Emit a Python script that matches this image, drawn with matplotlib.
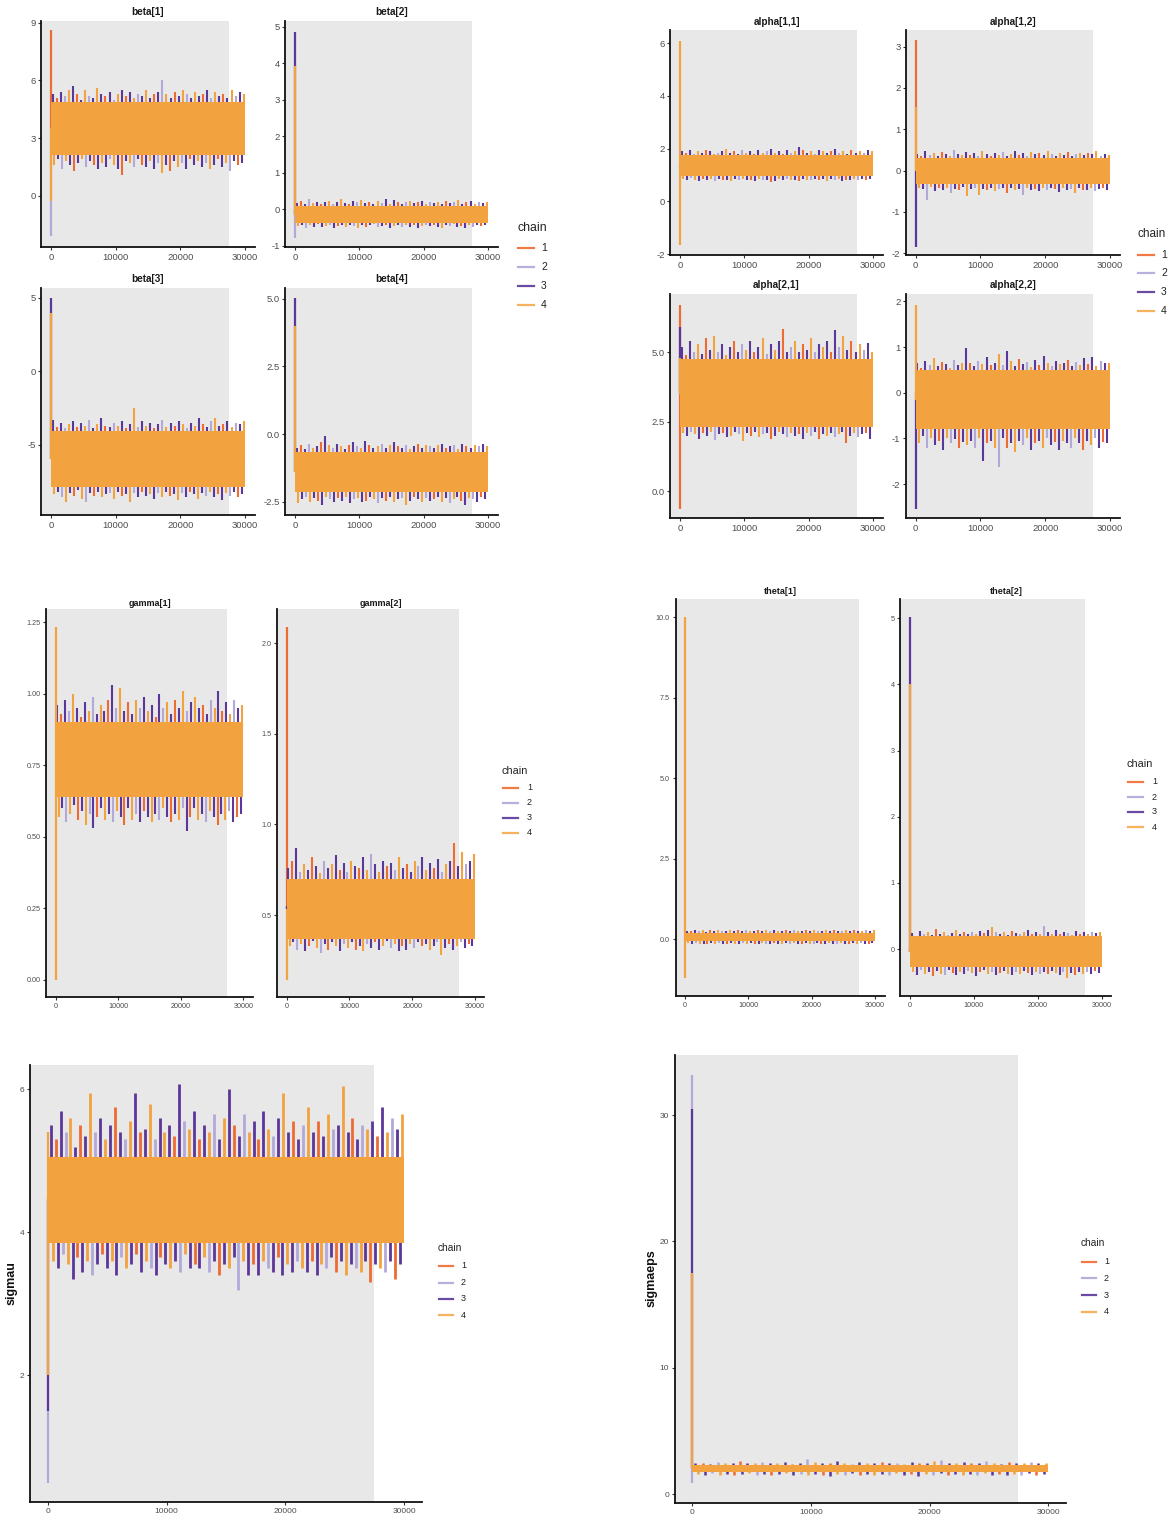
import numpy as np
import matplotlib
matplotlib.use('Agg')
import matplotlib.pyplot as plt
from matplotlib.lines import Line2D

plt.rcParams['font.family'] = ['Liberation Sans', 'DejaVu Sans']
plt.rcParams['axes.unicode_minus'] = False

W, H = 1173, 1517
n_iter = 30000
shade_end = 27450

chain_cols = ['#EE6B32', '#B3A9D9', '#5A3798', '#F2A23E']
leg_cols = ['#F07A45', '#B9AFDD', '#6A4BA3', '#F6B25E']
spike_chain = [3, 1, 3, 2, 4, 3, 1, 3, 4, 2, 3, 4]

# first draws of each chain (1..4), central band of the chains, upper / lower excursions
beta1_init = [[8.6], [-2.1], [3.5], [-0.3]]
beta1_core = (2.1, 4.9)
beta1_top = [5.3, 5.1, 5.4, 5.2, 5.5, 5.7, 5.3, 5.0, 5.5, 5.2, 5.1, 5.6, 5.3, 5.2, 5.4, 5.0, 5.3, 5.5,
             5.2, 5.4, 5.1, 5.3, 5.2, 5.5, 5.1, 5.3, 5.4, 6.0, 5.3, 5.1, 5.4, 5.2, 5.5, 5.3, 5.1, 5.4,
             5.2, 5.3, 5.5, 5.1, 5.4, 5.2, 5.3, 5.1, 5.5, 5.2, 5.4, 5.3]
beta1_bot = [1.6, 1.9, 1.4, 1.8, 1.6, 1.3, 1.7, 1.9, 1.5, 1.8, 1.6, 1.4, 1.7, 1.5, 1.9, 1.6, 1.4, 1.1,
             1.8, 1.7, 1.5, 1.9, 1.6, 1.5, 1.8, 1.4, 1.7, 1.2, 1.6, 1.3, 1.8, 1.5, 1.7, 1.4, 1.9, 1.6,
             1.8, 1.5, 1.7, 1.4, 1.6, 1.9, 1.5, 1.7, 1.3, 1.8, 1.6, 1.7]

beta2_init = [[0.0], [-0.78], [4.87], [3.93]]
beta2_core = (-0.38, 0.10)
beta2_top = [0.18, 0.22, 0.15, 0.28, 0.17, 0.2, 0.14, 0.19, 0.24, 0.16, 0.21, 0.29, 0.18, 0.15, 0.22, 0.19,
             0.26, 0.17, 0.2, 0.14, 0.23, 0.18, 0.29, 0.16, 0.25, 0.19, 0.15, 0.2, 0.22, 0.17, 0.19, 0.24,
             0.16, 0.2, 0.18, 0.21, 0.15, 0.23, 0.17, 0.2, 0.26, 0.16, 0.19, 0.22, 0.15, 0.2, 0.18, 0.21]
beta2_bot = [-0.45, -0.42, -0.5, -0.44, -0.47, -0.41, -0.49, -0.45, -0.43, -0.52, -0.46, -0.44, -0.48, -0.42,
             -0.45, -0.5, -0.43, -0.47, -0.44, -0.41, -0.49, -0.46, -0.43, -0.5, -0.45, -0.42, -0.48, -0.44,
             -0.47, -0.43, -0.51, -0.45, -0.42, -0.46, -0.44, -0.47, -0.5, -0.43, -0.46, -0.41, -0.48, -0.45,
             -0.52, -0.44, -0.47, -0.42, -0.46, -0.44]

beta3_init = [[-6.0], [-6.0], [5.0], [4.0]]
beta3_core = (-7.9, -4.1)
beta3_top = [-3.3, -3.8, -3.5, -3.9, -3.6, -3.4, -3.8, -3.5, -3.7, -3.3, -3.9, -3.6, -3.2, -3.7, -3.8, -3.5,
             -3.7, -3.4, -3.9, -3.6, -2.5, -3.8, -3.4, -3.7, -3.5, -3.9, -3.6, -3.3, -3.8, -3.5, -3.7, -3.4,
             -3.6, -3.9, -3.5, -3.7, -3.2, -3.6, -3.8, -3.4, -3.2, -3.7, -3.6, -3.4, -3.8, -3.5, -3.6, -3.4]
beta3_bot = [-8.4, -8.2, -8.6, -8.9, -8.3, -8.5, -8.1, -8.7, -8.9, -8.3, -8.5, -8.2, -8.6, -8.4, -8.3, -8.7,
             -8.2, -8.5, -8.4, -8.9, -8.3, -8.6, -8.2, -8.5, -8.4, -8.7, -8.3, -8.6, -8.2, -8.5, -8.4, -8.8,
             -8.3, -8.6, -8.2, -8.4, -8.7, -8.3, -8.5, -8.2, -8.6, -8.4, -8.8, -8.3, -8.5, -8.2, -8.6, -8.4]

beta4_init = [[-1.4], [-1.4], [5.02], [4.0]]
beta4_core = (-2.15, -0.65)
beta4_top = [-0.5, -0.4, -0.55, -0.35, -0.5, -0.45, -0.3, -0.05, -0.4, -0.5, -0.35, -0.45, -0.55, -0.4, -0.3,
             -0.45, -0.5, -0.25, -0.4, -0.5, -0.45, -0.35, -0.5, -0.4, -0.3, -0.45, -0.5, -0.4, -0.55, -0.45,
             -0.35, -0.5, -0.4, -0.45, -0.5, -0.4, -0.35, -0.5, -0.45, -0.4, -0.55, -0.35, -0.45, -0.5, -0.4,
             -0.45, -0.35, -0.45]
beta4_bot = [-2.55, -2.4, -2.3, -2.5, -2.35, -2.45, -2.6, -2.3, -2.4, -2.5, -2.35, -2.45, -2.3, -2.55, -2.4,
             -2.35, -2.5, -2.45, -2.3, -2.4, -2.55, -2.35, -2.45, -2.3, -2.5, -2.4, -2.35, -2.6, -2.45, -2.3,
             -2.4, -2.5, -2.35, -2.45, -2.4, -2.3, -2.5, -2.35, -2.55, -2.4, -2.3, -2.45, -2.6, -2.35, -2.4,
             -2.5, -2.3, -2.4]

alpha11_init = [[1.3], [1.3], [1.3], [6.1, -1.65]]
alpha11_core = (0.95, 1.75)
alpha11_top = [1.9, 1.85, 1.95, 1.8, 1.9, 1.85, 1.95, 1.9, 1.8, 1.85, 1.9, 2.0, 1.85, 1.9, 1.8, 1.95, 1.85,
               1.9, 1.8, 1.95, 1.85, 1.9, 2.0, 1.85, 1.9, 1.8, 1.95, 1.85, 1.9, 2.08, 1.95, 1.85, 1.9, 1.8,
               1.95, 1.9, 1.85, 1.9, 2.0, 1.85, 1.9, 1.8, 1.95, 1.85, 1.9, 1.85, 1.95, 1.9]
alpha11_bot = [0.85, 0.8, 0.88, 0.82, 0.78, 0.86, 0.8, 0.84, 0.79, 0.87, 0.82, 0.8, 0.76, 0.85, 0.81, 0.86,
               0.8, 0.83, 0.78, 0.86, 0.82, 0.8, 0.72, 0.79, 0.84, 0.81, 0.86, 0.8, 0.83, 0.79, 0.85, 0.82,
               0.8, 0.86, 0.83, 0.85, 0.78, 0.84, 0.8, 0.86, 0.79, 0.83, 0.81, 0.85, 0.8, 0.84, 0.82, 0.85]

alpha12_init = [[3.15], [0.0], [-1.85], [1.55]]
alpha12_core = (-0.32, 0.30)
alpha12_top = [0.4, 0.35, 0.48, 0.38, 0.42, 0.36, 0.44, 0.39, 0.35, 0.5, 0.41, 0.37, 0.45, 0.38, 0.43, 0.36,
               0.48, 0.4, 0.35, 0.42, 0.38, 0.44, 0.36, 0.4, 0.47, 0.38, 0.42, 0.35, 0.45, 0.39, 0.43, 0.37,
               0.48, 0.4, 0.36, 0.42, 0.38, 0.45, 0.35, 0.4, 0.43, 0.37, 0.42, 0.39, 0.47, 0.36, 0.41, 0.38]
alpha12_bot = [-0.42, -0.45, -0.7, -0.4, -0.5, -0.43, -0.46, -0.41, -0.55, -0.44, -0.48, -0.4, -0.62, -0.45,
               -0.42, -0.58, -0.44, -0.47, -0.41, -0.5, -0.45, -0.43, -0.55, -0.42, -0.48, -0.45, -0.58, -0.41,
               -0.47, -0.44, -0.5, -0.42, -0.46, -0.43, -0.45, -0.52, -0.41, -0.47, -0.44, -0.55, -0.42, -0.46,
               -0.48, -0.43, -0.5, -0.45, -0.42, -0.47]

alpha21_init = [[6.7, -0.65], [3.5], [5.9], [4.8]]
alpha21_core = (2.3, 4.75)
alpha21_top = [5.2, 4.9, 5.4, 5.0, 5.3, 4.95, 5.5, 5.1, 5.6, 5.0, 5.3, 4.9, 5.2, 5.4, 5.0, 5.3, 5.1, 5.4, 5.0,
               5.2, 5.5, 4.95, 5.3, 5.1, 5.4, 5.85, 5.0, 5.2, 5.4, 5.0, 5.3, 5.1, 5.5, 5.0, 5.3, 5.2, 5.4, 5.0,
               5.8, 5.2, 5.6, 5.1, 5.4, 5.0, 5.3, 5.1, 5.35, 5.0]
alpha21_bot = [2.1, 2.0, 2.15, 2.05, 1.9, 2.1, 2.0, 2.15, 1.85, 2.05, 2.1, 1.95, 2.0, 2.15, 2.05, 1.8, 2.1,
               2.0, 2.15, 1.95, 2.05, 2.1, 1.9, 2.0, 2.15, 2.05, 1.95, 2.1, 2.0, 2.05, 1.9, 2.1, 2.0, 2.15,
               1.9, 2.05, 2.0, 2.1, 1.95, 2.05, 2.15, 1.75, 2.0, 2.1, 1.95, 2.05, 2.1, 1.9]

alpha22_init = [[0.0], [0.0], [-2.55], [1.93]]
alpha22_core = (-0.8, 0.5)
alpha22_top = [0.65, 0.55, 0.7, 0.6, 0.75, 0.58, 0.68, 0.62, 0.55, 0.72, 0.6, 0.66, 0.97, 0.65, 0.58, 0.7,
               0.62, 0.78, 0.6, 0.66, 0.85, 0.6, 0.92, 0.7, 0.58, 0.74, 0.62, 0.68, 0.56, 0.72, 0.6, 0.8,
               0.65, 0.58, 0.7, 0.62, 0.66, 0.72, 0.58, 0.68, 0.6, 0.75, 0.62, 0.78, 0.58, 0.7, 0.64, 0.66]
alpha22_bot = [-1.1, -0.95, -1.2, -1.0, -1.15, -1.05, -1.25, -0.98, -1.1, -1.02, -1.2, -1.08, -1.15, -1.05,
               -1.2, -1.0, -1.5, -1.1, -1.05, -1.2, -1.62, -1.0, -1.2, -1.1, -1.3, -1.05, -1.15, -1.0, -1.25,
               -1.1, -1.05, -1.2, -1.0, -1.15, -1.08, -1.25, -1.05, -1.1, -1.2, -1.0, -1.1, -1.25, -1.05,
               -1.15, -1.0, -1.2, -1.08, -1.1]

gamma1_init = [[0.77], [0.77], [0.77], [1.235, 0.0]]
gamma1_core = (0.64, 0.90)
gamma1_top = [0.96, 0.93, 0.98, 0.94, 1.0, 0.95, 0.92, 0.97, 0.94, 0.99, 0.93, 0.96, 0.94, 0.98, 1.03, 0.95,
              1.02, 0.94, 0.97, 0.93, 0.98, 0.95, 0.99, 0.94, 0.96, 0.92, 1.0, 0.95, 0.97, 0.93, 0.98, 0.95,
              1.01, 0.94, 0.97, 0.99, 0.95, 0.96, 0.93, 0.98, 0.95, 1.01, 0.94, 0.97, 0.93, 0.98, 0.95, 0.96]
gamma1_bot = [0.57, 0.6, 0.55, 0.58, 0.61, 0.56, 0.59, 0.54, 0.58, 0.53, 0.57, 0.6, 0.56, 0.58, 0.55, 0.59,
              0.57, 0.54, 0.6, 0.56, 0.58, 0.55, 0.59, 0.57, 0.55, 0.58, 0.56, 0.6, 0.57, 0.55, 0.58, 0.56,
              0.6, 0.52, 0.57, 0.6, 0.56, 0.58, 0.55, 0.59, 0.57, 0.54, 0.58, 0.56, 0.59, 0.55, 0.57, 0.58]

gamma2_init = [[2.09], [0.55], [0.55], [0.14]]
gamma2_core = (0.37, 0.70)
gamma2_top = [0.76, 0.8, 0.87, 0.74, 0.78, 0.75, 0.82, 0.77, 0.73, 0.8, 0.76, 0.78, 0.83, 0.75, 0.79, 0.74,
              0.8, 0.77, 0.76, 0.82, 0.75, 0.84, 0.78, 0.74, 0.8, 0.77, 0.79, 0.75, 0.82, 0.76, 0.78, 0.74,
              0.8, 0.77, 0.82, 0.75, 0.79, 0.76, 0.81, 0.74, 0.78, 0.8, 0.9, 0.77, 0.85, 0.78, 0.8, 0.84]
gamma2_bot = [0.33, 0.35, 0.31, 0.34, 0.3, 0.33, 0.36, 0.32, 0.29, 0.34, 0.31, 0.35, 0.33, 0.3, 0.34, 0.32,
              0.35, 0.31, 0.33, 0.3, 0.34, 0.32, 0.35, 0.31, 0.33, 0.36, 0.32, 0.34, 0.3, 0.33, 0.31, 0.34,
              0.32, 0.35, 0.33, 0.34, 0.31, 0.33, 0.35, 0.28, 0.32, 0.34, 0.31, 0.33, 0.35, 0.32, 0.34, 0.33]

theta1_init = [[0.07], [0.07], [0.07], [10.0, -1.2]]
theta1_core = (-0.07, 0.20)
theta1_top = [0.26, 0.24, 0.28, 0.25, 0.27, 0.23, 0.29, 0.25, 0.27, 0.24, 0.26, 0.28, 0.25, 0.27, 0.24, 0.29,
              0.26, 0.25, 0.28, 0.24, 0.27, 0.25, 0.29, 0.26, 0.24, 0.28, 0.25, 0.27, 0.26, 0.24, 0.28, 0.25,
              0.27, 0.26, 0.24, 0.27, 0.25, 0.28, 0.24, 0.26, 0.29, 0.25, 0.27, 0.24, 0.26, 0.28, 0.25, 0.27]
theta1_bot = [-0.13, -0.16, -0.12, -0.15, -0.14, -0.17, -0.12, -0.15, -0.13, -0.16, -0.14, -0.12, -0.17,
              -0.14, -0.13, -0.15, -0.12, -0.16, -0.14, -0.13, -0.15, -0.17, -0.12, -0.14, -0.16, -0.13,
              -0.15, -0.12, -0.14, -0.16, -0.13, -0.15, -0.14, -0.12, -0.16, -0.14, -0.13, -0.15, -0.17,
              -0.12, -0.14, -0.16, -0.13, -0.15, -0.12, -0.14, -0.16, -0.13]

theta2_init = [[0.0], [0.0], [5.02], [4.0]]
theta2_core = (-0.27, 0.19)
theta2_top = [0.24, 0.2, 0.27, 0.22, 0.25, 0.21, 0.3, 0.23, 0.26, 0.21, 0.24, 0.28, 0.22, 0.25, 0.23, 0.26,
              0.22, 0.27, 0.24, 0.29, 0.33, 0.25, 0.23, 0.26, 0.21, 0.27, 0.24, 0.22, 0.25, 0.28, 0.23, 0.26,
              0.22, 0.35, 0.25, 0.23, 0.28, 0.22, 0.26, 0.24, 0.21, 0.27, 0.23, 0.25, 0.22, 0.26, 0.24, 0.25]
theta2_bot = [-0.35, -0.4, -0.32, -0.38, -0.34, -0.41, -0.33, -0.37, -0.39, -0.32, -0.36, -0.4, -0.34, -0.38,
              -0.33, -0.36, -0.41, -0.35, -0.32, -0.38, -0.34, -0.39, -0.36, -0.33, -0.37, -0.4, -0.34,
              -0.38, -0.33, -0.36, -0.39, -0.34, -0.37, -0.35, -0.38, -0.33, -0.36, -0.4, -0.35, -0.44,
              -0.36, -0.39, -0.34, -0.37, -0.35, -0.38, -0.33, -0.36]

sigmau_init = [[4.5], [0.5], [1.5], [2.0, 5.4]]
sigmau_core = (3.85, 5.05)
sigmau_top = [5.5, 5.3, 5.7, 5.4, 5.6, 5.2, 5.5, 5.35, 5.95, 5.4, 5.6, 5.3, 5.5, 5.75, 5.4, 5.3, 5.55, 5.95,
              5.4, 5.45, 5.8, 5.3, 5.6, 5.4, 5.5, 5.35, 6.07, 5.55, 5.45, 5.7, 5.3, 5.5, 5.4, 5.65, 5.3, 5.6,
              6.0, 5.5, 5.35, 5.65, 5.4, 5.55, 5.3, 5.7, 5.45, 5.35, 5.6, 5.95, 5.4, 5.55, 5.3, 5.5, 5.75,
              5.4, 5.55, 5.35, 5.65, 5.45, 5.5, 6.05, 5.4, 5.6, 5.3, 5.5, 5.45, 5.55, 5.35, 5.75, 5.4, 5.6,
              5.45, 5.65]
sigmau_bot = [3.6, 3.5, 3.7, 3.55, 3.35, 3.65, 3.45, 3.6, 3.4, 3.55, 3.7, 3.5, 3.6, 3.4, 3.65, 3.5, 3.55,
              3.7, 3.45, 3.6, 3.5, 3.4, 3.65, 3.55, 3.5, 3.6, 3.45, 3.7, 3.5, 3.55, 3.5, 3.65, 3.45, 3.6,
              3.4, 3.55, 3.5, 3.65, 3.2, 3.6, 3.4, 3.55, 3.4, 3.6, 3.5, 3.45, 3.65, 3.4, 3.55, 3.45, 3.6,
              3.5, 3.45, 3.6, 3.4, 3.55, 3.5, 3.65, 3.45, 3.6, 3.4, 3.55, 3.5, 3.45, 3.6, 3.3, 3.55, 3.5,
              3.45, 3.6, 3.35, 3.55]

sigmaeps_init = [[2.0], [33.2, 0.9], [30.5], [17.5]]
sigmaeps_core = (1.75, 2.35)
sigmaeps_top = [2.45, 2.5, 2.4, 2.55, 2.45, 2.5, 2.6, 2.45, 2.5, 2.55, 2.5, 2.45, 2.55, 2.4, 2.5, 2.8, 2.55,
                2.5, 2.45, 2.6, 2.5, 2.4, 2.55, 2.45, 2.5, 2.55, 2.45, 2.5, 2.4, 2.55, 2.45, 2.5, 2.6, 2.7,
                2.5, 2.45, 2.55, 2.5, 2.45, 2.6, 2.5, 2.4, 2.55, 2.45, 2.5, 2.55, 2.45, 2.5]
sigmaeps_bot = [1.6, 1.55, 1.65, 1.5, 1.6, 1.55, 1.6, 1.65, 1.5, 1.6, 1.55, 1.6, 1.65, 1.55, 1.6, 1.5, 1.6,
                1.55, 1.45, 1.6, 1.55, 1.65, 1.5, 1.6, 1.55, 1.6, 1.5, 1.65, 1.55, 1.6, 1.45, 1.6, 1.55,
                1.65, 1.5, 1.6, 1.55, 1.6, 1.5, 1.65, 1.55, 1.6, 1.5, 1.6, 1.55, 1.65, 1.5, 1.6]

fig = plt.figure(figsize=(W / 100, H / 100), dpi=100)


def px(x, y):
    return x / W, 1 - y / H


def panel(x0, x30, top, bottom, ylim, yticks, ylabels, fs):
    left = x0 - 0.05 * (x30 - x0)
    right = x30 + 0.05 * (x30 - x0)
    ax = fig.add_axes([left / W, 1 - bottom / H, (right - left) / W, (bottom - top) / H])
    ax.set_xlim(-1500, 31500)
    ax.set_ylim(*ylim)
    ax.axvspan(-1500, shade_end, color='#E8E8E8', lw=0, zorder=0)
    ax.set_xticks([0, 10000, 20000, 30000])
    ax.set_yticks(yticks)
    ax.set_yticklabels(ylabels)
    for s in ['top', 'right']:
        ax.spines[s].set_visible(False)
    for s in ['left', 'bottom']:
        ax.spines[s].set_linewidth(1.3)
        ax.spines[s].set_color('#111111')
    ax.tick_params(length=2.5, width=0.8, color='#333333', labelsize=fs,
                   labelcolor='#4D4D4D', pad=1.5)
    ax.center_px = (left + right) / 2
    return ax


def trace(ax, init, core, top, bot, lw=1.5):
    mid = (core[0] + core[1]) / 2
    top = np.array(top)
    bot = np.array(bot)
    xt = np.linspace(250, n_iter - 200, len(top))
    xb = np.linspace(450, n_iter - 400, len(bot))
    ct = np.resize(spike_chain, len(top))
    cb = np.resize(spike_chain[::-1], len(bot))
    for c in range(4):
        z = 4 if c == 3 else 2
        vals = init[c] + [mid]
        ax.vlines(0, min(vals), max(vals), color=chain_cols[c], lw=1.6, zorder=z)
        m = ct == c + 1
        ax.vlines(xt[m], mid, top[m], color=chain_cols[c], lw=lw, zorder=z)
        m = cb == c + 1
        ax.vlines(xb[m], bot[m], mid, color=chain_cols[c], lw=lw, zorder=z)
    ax.fill_between([0, n_iter], core[0], core[1], color=chain_cols[3], lw=0, zorder=3)


def title(ax, text, y, fs):
    fig.text(*px(ax.center_px, y), text, ha='center', va='center', fontsize=fs,
             fontweight='bold', color='#1A1A1A')


def chain_legend(x, y_title, ys, x_lab, line_len, fs_title, fs_lab):
    fig.text(*px(x, y_title), 'chain', ha='left', va='center', fontsize=fs_title, color='#222222')
    for i, y in enumerate(ys):
        x1, yy = px(x + 1, y)
        x2, _ = px(x + 1 + line_len, y)
        fig.add_artist(Line2D([x1, x2], [yy, yy], color=leg_cols[i], lw=1.6))
        fig.text(*px(x_lab, y), str(i + 1), ha='left', va='center', fontsize=fs_lab, color='#222222')


# beta block
ax = panel(51, 245, 21, 247, (-2.67, 9.09), [0, 3, 6, 9], ['0', '3', '6', '9'], 6.8)
trace(ax, beta1_init, beta1_core, beta1_top, beta1_bot)
title(ax, 'beta[1]', 12, 7.2)
ax = panel(295, 488, 21, 247, (-1.03, 5.16), [-1, 0, 1, 2, 3, 4, 5],
           ['-1', '0', '1', '2', '3', '4', '5'], 6.8)
trace(ax, beta2_init, beta2_core, beta2_top, beta2_bot)
title(ax, 'beta[2]', 12, 7.2)
ax = panel(51, 245, 288, 515, (-9.8, 5.68), [-5, 0, 5], ['-5', '0', '5'], 6.8)
trace(ax, beta3_init, beta3_core, beta3_top, beta3_bot)
title(ax, 'beta[3]', 279, 7.2)
ax = panel(295, 488, 288, 515, (-2.98, 5.39), [-2.5, 0, 2.5, 5], ['-2.5', '0.0', '2.5', '5.0'], 6.8)
trace(ax, beta4_init, beta4_core, beta4_top, beta4_bot)
title(ax, 'beta[4]', 279, 7.2)
chain_legend(517, 228, [248, 267, 286, 305], 541, 16, 8.8, 7.5)

# alpha block
ax = panel(680, 873, 30, 255, (-2.03, 6.5), [-2, 0, 2, 4, 6], ['-2', '0', '2', '4', '6'], 6.8)
trace(ax, alpha11_init, alpha11_core, alpha11_top, alpha11_bot)
title(ax, 'alpha[1,1]', 22, 7.2)
ax = panel(915.7, 1110, 30, 255, (-2.04, 3.40), [-2, -1, 0, 1, 2, 3],
           ['-2', '-1', '0', '1', '2', '3'], 6.8)
trace(ax, alpha12_init, alpha12_core, alpha12_top, alpha12_bot)
title(ax, 'alpha[1,2]', 22, 7.2)
ax = panel(680, 873, 294, 518, (-0.96, 7.1), [0, 2.5, 5], ['0.0', '2.5', '5.0'], 6.8)
trace(ax, alpha21_init, alpha21_core, alpha21_top, alpha21_bot)
title(ax, 'alpha[2,1]', 285, 7.2)
ax = panel(915.7, 1110, 294, 518, (-2.74, 2.16), [-2, -1, 0, 1, 2], ['-2', '-1', '0', '1', '2'], 6.8)
trace(ax, alpha22_init, alpha22_core, alpha22_top, alpha22_bot)
title(ax, 'alpha[2,2]', 285, 7.2)
chain_legend(1137, 234, [255, 273, 292, 311], 1161, 16, 8.5, 7.5)

# gamma block
ax = panel(55.7, 243.3, 609, 997, (-0.061, 1.297), [0, 0.25, 0.5, 0.75, 1.0, 1.25],
           ['0.00', '0.25', '0.50', '0.75', '1.00', '1.25'], 5.2)
trace(ax, gamma1_init, gamma1_core, gamma1_top, gamma1_bot)
title(ax, 'gamma[1]', 603, 6.5)
ax = panel(286.7, 475, 609, 997, (0.049, 2.188), [0.5, 1.0, 1.5, 2.0], ['0.5', '1.0', '1.5', '2.0'], 5.2)
trace(ax, gamma2_init, gamma2_core, gamma2_top, gamma2_bot)
title(ax, 'gamma[2]', 603, 6.5)
chain_legend(501.7, 771, [787.7, 802.7, 817.7, 832.7], 527, 15, 7.8, 6.5)

# theta block
ax = panel(685, 875, 599, 996, (-1.77, 10.56), [0, 2.5, 5, 7.5, 10],
           ['0.0', '2.5', '5.0', '7.5', '10.0'], 5.2)
trace(ax, theta1_init, theta1_core, theta1_top, theta1_bot)
title(ax, 'theta[1]', 592, 6.5)
ax = panel(910, 1101.7, 599, 996, (-0.71, 5.29), [0, 1, 2, 3, 4, 5],
           ['0', '1', '2', '3', '4', '5'], 5.2)
trace(ax, theta2_init, theta2_core, theta2_top, theta2_bot)
title(ax, 'theta[2]', 592, 6.5)
chain_legend(1126.7, 764.3, [781.7, 797, 812, 827.3], 1152, 15, 7.8, 6.5)

# sigmau
ax = panel(47.7, 404.3, 1065, 1502, (0.228, 6.34), [2, 4, 6], ['2', '4', '6'], 6)
trace(ax, sigmau_init, sigmau_core, sigmau_top, sigmau_bot, lw=2.0)
fig.text(*px(12, 1283), 'sigmau', rotation=90, ha='center', va='center', fontsize=9,
         fontweight='bold', color='#111111')
chain_legend(438, 1248, [1266, 1282.7, 1298.7, 1315], 461, 14, 7.3, 6.5)

# sigmaeps
ax = panel(692.3, 1048.3, 1055, 1503, (-0.69, 34.75), [0, 10, 20, 30], ['0', '10', '20', '30'], 6)
trace(ax, sigmaeps_init, sigmaeps_core, sigmaeps_top, sigmaeps_bot, lw=1.8)
fig.text(*px(652, 1278), 'sigmaeps', rotation=90, ha='center', va='center', fontsize=9,
         fontweight='bold', color='#111111')
chain_legend(1081, 1243, [1261.7, 1278.3, 1295, 1311.7], 1104, 14, 7.3, 6.5)

fig.savefig('out.png', dpi=100)
